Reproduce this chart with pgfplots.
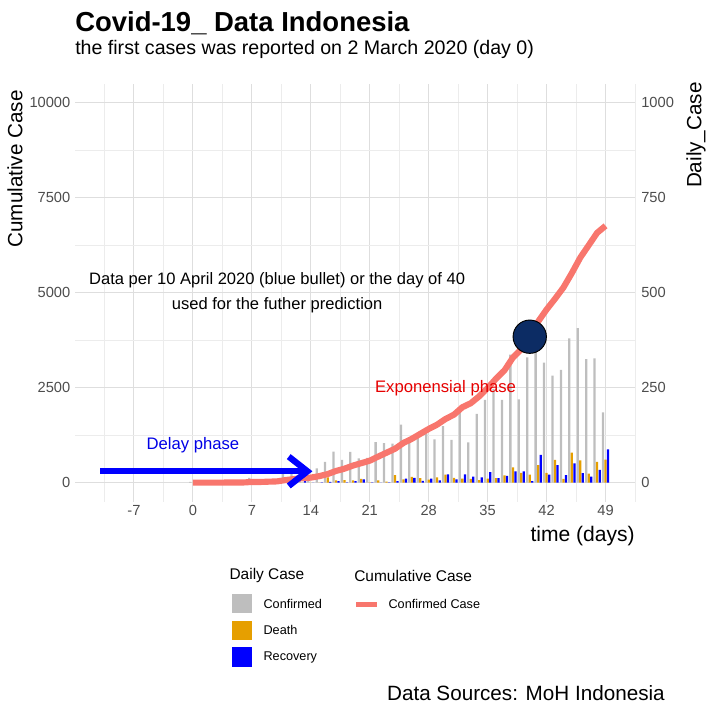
\documentclass[border=0pt]{standalone}
\usepackage{fontspec}
\setmainfont{Liberation Sans}
\usepackage{pgfplots}
\pgfplotsset{compat=1.18}
\usepackage{pgfplotstable}
\usetikzlibrary{arrows.meta}

\definecolor{confgrey}{RGB}{190,190,190}
\definecolor{deathorange}{RGB}{230,159,0}
\definecolor{recovblue}{RGB}{0,0,255}
\definecolor{cumred}{RGB}{248,118,109}
\definecolor{bullet}{RGB}{12,44,100}
\definecolor{labgrey}{RGB}{77,77,77}
\definecolor{gridmajor}{RGB}{222,222,222}
\definecolor{gridminor}{RGB}{236,236,236}
\definecolor{phasered}{RGB}{230,0,0}
\definecolor{phaseblue}{RGB}{0,0,230}

% day 0 = 2 March 2020; daily counts and cumulative confirmed
\pgfplotstableread{
day conf death recov cum
0 2 0 0 2
1 0 0 0 2
2 0 0 0 2
3 0 0 0 2
4 2 0 0 4
5 0 0 0 4
6 2 0 0 6
7 13 0 0 19
8 0 0 0 19
9 8 1 0 27
10 7 0 0 34
11 35 3 0 69
12 27 1 0 96
13 21 0 8 117
14 17 0 0 134
15 38 0 1 172
16 55 14 2 227
17 82 6 4 309
18 60 7 1 369
19 81 6 4 450
20 64 10 9 514
21 65 1 1 579
22 107 6 0 686
23 104 3 1 790
24 103 20 4 893
25 153 9 11 1046
26 109 15 13 1155
27 130 12 5 1285
28 129 8 11 1414
29 114 14 6 1528
30 149 21 22 1677
31 113 13 9 1790
32 196 11 22 1986
33 106 10 16 2092
34 181 7 14 2273
35 218 11 28 2491
36 247 12 12 2738
37 218 19 18 2956
38 337 40 30 3293
39 219 26 30 3512
40 330 21 4 3842
41 399 46 73 4241
42 316 26 21 4557
43 282 60 46 4839
44 297 10 20 5136
45 380 79 51 5516
46 407 59 25 5923
47 325 24 16 6248
48 327 55 34 6575
49 185 61 88 6760
}\covid

\pgfplotsset{
  ticklab/.style={font=\fontsize{11}{13}\selectfont, text=labgrey},
}

\begin{document}
\begin{tikzpicture}
\begin{axis}[
  at={(56.25pt,155.475pt)}, anchor=south west,
  width=420pt, height=313.5pt, scale only axis,
  xmin=-14, xmax=52.5, ymin=-500, ymax=10500,
  xtick={-7,0,...,49}, minor xtick={-10.5,-3.5,...,52.5},
  ytick={0,2500,...,10000}, minor ytick={1250,3750,6250,8750},
  grid=both,
  major grid style={gridmajor, line width=0.8pt},
  minor grid style={gridminor, line width=0.5pt},
  axis line style={draw=none},
  major tick length=0pt, minor tick length=0pt,
  tick label style={ticklab},
  /pgf/number format/assume math mode=true,
  /pgf/number format/1000 sep={},
  scaled ticks=false,
  xticklabel shift=-1pt,
]
% daily bars, drawn on the right-hand scale (x10)
\addplot[ybar, bar width=1.7pt, bar shift=-1.9pt, fill=confgrey, draw=none]
  table[x=day, y expr=\thisrow{conf}*10] {\covid};
\addplot[ybar, bar width=1.7pt, bar shift=0pt, fill=deathorange, draw=none]
  table[x=day, y expr=\thisrow{death}*10] {\covid};
\addplot[ybar, bar width=1.7pt, bar shift=1.9pt, fill=recovblue, draw=none]
  table[x=day, y expr=\thisrow{recov}*10] {\covid};
% cumulative line
\addplot[cumred, line width=4.6pt, line join=round, mark=none]
  table[x=day, y=cum] {\covid};
% day 40 bullet
\addplot[only marks, mark=*, mark size=12.5pt,
  mark options={fill=bullet, draw=black, line width=0.7pt}]
  coordinates {(40,3842)};
% delay phase arrow
\addplot[recovblue, line width=4.7pt, mark=none,
  -{Straight Barb[length=14pt, width=22pt]}]
  coordinates {(-11,300) (14.2,300)};

\node[font=\fontsize{12.4}{18.75}\selectfont, align=center]
  at (axis cs:10,5000) {Data per 10 April 2020 (blue bullet) or the day of 40\\used for the futher prediction};
\node[text=phasered, font=\fontsize{12.5}{15}\selectfont]
  at (axis cs:30,2500) {Exponensial phase};
\node[text=phaseblue, font=\fontsize{12.5}{15}\selectfont]
  at (axis cs:0,1000) {Delay phase};
\end{axis}

% right-hand scale for the daily counts
\begin{axis}[
  at={(56.25pt,155.475pt)}, anchor=south west,
  width=420pt, height=313.5pt, scale only axis,
  xmin=-14, xmax=52.5, ymin=-50, ymax=1050,
  ytick={0,250,...,1000},
  hide x axis,
  axis y line*=right,
  axis line style={draw=none},
  major tick length=0pt,
  tick label style={ticklab},
  /pgf/number format/assume math mode=true,
  /pgf/number format/1000 sep={},
  yticklabel shift=1.2pt,
]
\end{axis}

\begin{scope}[x=0.75pt, y=0.75pt, every node/.style={inner sep=0pt}]
\node[anchor=base west, font=\bfseries\fontsize{20.6}{24}\selectfont] at (75,677) {Covid-19\_ Data Indonesia};
\node[anchor=base west, font=\fontsize{14.7}{17}\selectfont] at (75,654) {the first cases was reported on 2 March 2020 (day 0)};
\node[rotate=90, anchor=east, font=\fontsize{15.5}{18}\selectfont] at (15,619) {Cumulative Case};
\node[rotate=90, anchor=east, font=\fontsize{15.5}{18}\selectfont] at (696,627) {Daily\_Case};
\node[anchor=east, font=\fontsize{15.8}{18}\selectfont] at (635,173) {time (days)};

% legend
\node[anchor=west, font=\fontsize{11.6}{14}\selectfont] at (229.3,133.3) {Daily Case};
\node[anchor=west, font=\fontsize{11.6}{14}\selectfont] at (354,133.3) {Cumulative Case};
\fill[confgrey] (232,95.7) rectangle (251.7,114.7);
\fill[deathorange] (232,69) rectangle (251.7,88.3);
\fill[recovblue] (232,42.3) rectangle (251.7,61.7);
\node[anchor=west, font=\fontsize{9.5}{11}\selectfont] at (263.3,104.7) {Confirmed};
\node[anchor=west, font=\fontsize{9.5}{11}\selectfont] at (263.3,78.7) {Death};
\node[anchor=west, font=\fontsize{9.5}{11}\selectfont] at (263.3,52) {Recovery};
\draw[cumred, line width=4pt] (356,104.7) -- (377.3,104.7);
\node[anchor=west, font=\fontsize{9.5}{11}\selectfont] at (388.3,104.7) {Confirmed Case};

\node[anchor=east, font=\fontsize{15.5}{18}\selectfont] at (665,16) {Data Sources: MoH Indonesia};
\end{scope}

\pgfresetboundingbox
\useasboundingbox (0,0) rectangle (531.75pt,531.75pt);
\end{tikzpicture}
\end{document}
